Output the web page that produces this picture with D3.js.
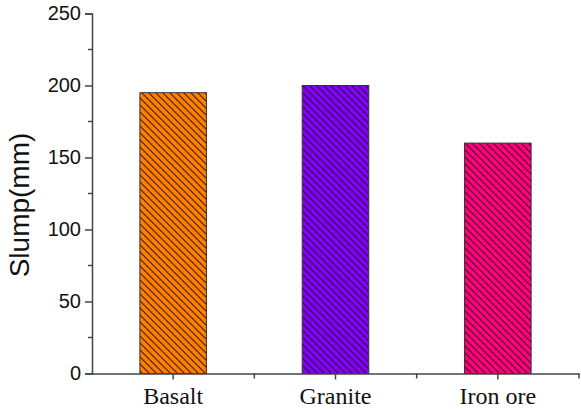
<!DOCTYPE html>
<html>
<head>
<meta charset="utf-8">
<script src="https://cdn.jsdelivr.net/npm/d3@7"></script>
<style>
  body { margin: 0; background: #fff; }
</style>
</head>
<body>
<svg id="chart"></svg>
<script>
let categories = ['Basalt', 'Granite', 'Iron ore']
let slump = [195, 200, 160]
let colors = ['#ff8000', '#8000ff', '#ff0080']
let yTicks = [0, 50, 100, 150, 200, 250]
let yMinor = [25, 75, 125, 175, 225]

let W = 581, H = 409
let svg = d3.select('#chart').attr('width', W).attr('height', H)

let x = d3.scaleBand().domain(categories).range([92, 579]).paddingInner(0.59).paddingOuter(0.295)
let y = d3.scaleLinear().domain([0, 250]).range([373.5, 13.5])
let axisColor = '#444'

// hatch patterns, one per bar colour
let defs = svg.append('defs')
colors.forEach((c, i) => {
  let p = defs.append('pattern')
    .attr('id', 'hatch' + i)
    .attr('patternUnits', 'userSpaceOnUse')
    .attr('width', 7).attr('height', 7)
  p.append('rect').attr('width', 7).attr('height', 7).attr('fill', c)
  p.append('path')
    .attr('d', 'M-1,-1 L8,8 M-1,6 L1,8 M6,-1 L8,1')
    .attr('stroke', '#2a1208').attr('stroke-width', 1.1).attr('stroke-opacity', 0.9)
})

// bars
svg.append('g').selectAll('rect')
  .data(slump)
  .enter()
  .append('rect')
  .attr('x', (d, i) => x(categories[i]))
  .attr('y', d => y(d))
  .attr('width', x.bandwidth())
  .attr('height', d => y(0) - y(d))
  .attr('fill', (d, i) => `url(#hatch${i})`)
  .attr('stroke', '#333')
  .attr('stroke-width', 1)

// y axis
let yAxis = svg.append('g').attr('transform', 'translate(92,0)')
  .call(d3.axisLeft(y).tickValues(yTicks).tickSize(7).tickPadding(4))
yAxis.select('.domain').attr('stroke', axisColor).attr('stroke-width', 1.5)
yAxis.selectAll('.tick line').attr('stroke', axisColor).attr('stroke-width', 1.5)
yAxis.selectAll('.tick text')
  .attr('font-family', 'Liberation Sans, Arial, sans-serif')
  .attr('font-size', 20).attr('fill', '#111')
yAxis.selectAll('.minor').data(yMinor).enter().append('line')
  .attr('class', 'minor')
  .attr('x1', -4).attr('x2', 0)
  .attr('y1', d => y(d)).attr('y2', d => y(d))
  .attr('stroke', axisColor).attr('stroke-width', 1.5)

// x axis
let xAxis = svg.append('g').attr('transform', `translate(0,${y(0)})`)
  .call(d3.axisBottom(x).tickSize(6).tickSizeOuter(0).tickPadding(7))
xAxis.select('.domain').attr('stroke', axisColor).attr('stroke-width', 1.5)
xAxis.selectAll('.tick line').attr('stroke', axisColor).attr('stroke-width', 1.5)
xAxis.selectAll('.tick text')
  .attr('font-family', 'Liberation Serif, Times New Roman, serif')
  .attr('font-size', 24).attr('fill', '#111')
// ticks between categories and at the end
let step = x.step()
let bounds = categories.map((c, i) => x(c) + x.bandwidth() / 2 + step / 2)
xAxis.selectAll('.between').data(bounds).enter().append('line')
  .attr('class', 'between')
  .attr('x1', d => d).attr('x2', d => d)
  .attr('y1', 0).attr('y2', 5)
  .attr('stroke', axisColor).attr('stroke-width', 1.5)

// y label
svg.append('text')
  .attr('transform', 'translate(29,205) rotate(-90)')
  .attr('text-anchor', 'middle')
  .attr('font-family', 'Liberation Sans, Arial, sans-serif')
  .attr('font-size', 28)
  .attr('fill', '#111')
  .text('Slump(mm)')
</script>
</body>
</html>
